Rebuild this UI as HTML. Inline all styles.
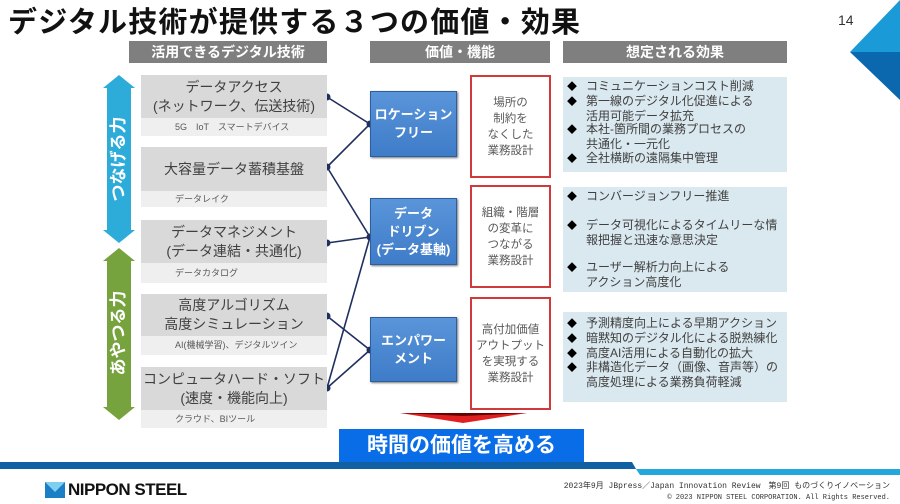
<!DOCTYPE html>
<html><head><meta charset="utf-8"><style>
*{margin:0;padding:0;box-sizing:border-box}
body{width:900px;height:504px;background:#fff;position:relative;overflow:hidden;font-family:"Liberation Sans","Noto Sans CJK JP",sans-serif;color:#404040}
.a{position:absolute}
.hdr{background:#7f7f7f;color:#fff;font-weight:bold;font-size:14px;text-align:center;line-height:22px}
.m{background:#d9d9d9;text-align:center;font-size:14px;display:flex;flex-direction:column;justify-content:center;line-height:19px}
.s{background:#efefef;font-size:9px;color:#595959;line-height:18px;padding-left:34px}
.bb{background:linear-gradient(#5a95da,#3f7cc8);border:1px solid #2d5f9e;box-shadow:1px 1px 2px #777;color:#fff;font-weight:bold;font-size:13px;text-align:center;display:flex;flex-direction:column;justify-content:center;line-height:18px}
.rb{border:2px solid #d03a3a;font-size:11.5px;text-align:center;color:#595959;display:flex;flex-direction:column;justify-content:center;line-height:16px}
.eb{background:#dae8ef;font-size:12px;color:#404040;padding:3px 0 0 4px;line-height:13.8px;white-space:nowrap}
.eb div{padding-left:19px;text-indent:-19px}
.eb div:before{content:"◆";display:inline-block;width:19px;text-indent:0;font-size:10px;color:#000}
.vt{color:#fff;font-weight:bold;font-size:17px;text-align:center;transform:rotate(-90deg);white-space:nowrap}
</style></head><body>
<div class="a" style="left:8px;top:-1px;font-size:29px;font-weight:bold;color:#111;letter-spacing:1.2px">デジタル技術が提供する３つの価値・効果</div>
<div class="a" style="left:838px;top:12px;font-size:14px;color:#333">14</div>
<svg class="a" style="left:0;top:0" width="900" height="504">
<polygon points="850,52 900,0 900,52" fill="#1a9ad6"/>
<polygon points="850,52 900,52 900,100" fill="#0b68ae"/>
<polygon points="119,75 135,88 131,88 131,230 135,230 119,243 103,230 107,230 107,88 103,88" fill="#2eacd9"/>
<polygon points="119,248 135,261 131,261 131,407 135,407 119,420 103,407 107,407 107,261 103,261" fill="#76a33e"/>
<g stroke="#1f2f5e" stroke-width="1.6" fill="none">
<line x1="327" y1="97" x2="370" y2="124"/><line x1="327" y1="167" x2="370" y2="124"/>
<line x1="327" y1="167" x2="370" y2="237"/><line x1="327" y1="243" x2="370" y2="237"/>
<line x1="327" y1="388" x2="370" y2="237"/>
<line x1="327" y1="316" x2="370" y2="350"/><line x1="327" y1="388" x2="370" y2="350"/>
</g>
<g fill="#1f2f5e">
<circle cx="327" cy="97" r="3.5"/><circle cx="327" cy="167" r="3.5"/><circle cx="327" cy="243" r="3.5"/><circle cx="327" cy="316" r="3.5"/><circle cx="327" cy="388" r="3.5"/>
<circle cx="370" cy="124" r="3.5"/><circle cx="370" cy="237" r="3.5"/><circle cx="370" cy="350" r="3.5"/>
</g>
<polygon points="400,413 527,413 463,423" fill="#e02020"/>
<polygon points="400,413 527,413 463,416" fill="#600"/>
<polygon points="0,462 632,462 636,469 0,469" fill="#1260a4"/>
<polygon points="636,469 900,469 900,475 640,475" fill="#22a8dc"/>
<polygon points="45,482 65,482 65,498 45,498" fill="#1a7fc4"/>
<polygon points="45,482 65,482 55,492" fill="#7fd0f0"/>
</svg>
<div class="a vt" style="left:69px;top:148px;width:100px;height:22px;line-height:22px">つなげる力</div>
<div class="a vt" style="left:69px;top:322px;width:100px;height:22px;line-height:22px">あやつる力</div>

<div class="a hdr" style="left:129px;top:41px;width:198px">活用できるデジタル技術</div>
<div class="a hdr" style="left:370px;top:41px;width:180px">価値・機能</div>
<div class="a hdr" style="left:563px;top:41px;width:224px">想定される効果</div>

<div class="a m" style="left:141px;top:75px;width:186px;height:43px"><span>データアクセス</span><span>(ネットワーク、伝送技術)</span></div>
<div class="a s" style="left:141px;top:118px;width:186px;height:18px">5G　IoT　スマートデバイス</div>
<div class="a m" style="left:141px;top:147px;width:186px;height:44px">大容量データ蓄積基盤</div>
<div class="a s" style="left:141px;top:191px;width:186px;height:16px;line-height:16px">データレイク</div>
<div class="a m" style="left:141px;top:220px;width:186px;height:43px"><span>データマネジメント</span><span>(データ連結・共通化)</span></div>
<div class="a s" style="left:141px;top:263px;width:186px;height:20px;line-height:20px">データカタログ</div>
<div class="a m" style="left:141px;top:294px;width:186px;height:42px"><span>高度アルゴリズム</span><span>高度シミュレーション</span></div>
<div class="a s" style="left:141px;top:336px;width:186px;height:19px;line-height:19px;padding-left:34px">AI(機械学習)、デジタルツイン</div>
<div class="a m" style="left:141px;top:367px;width:186px;height:43px"><span>コンピュータハード・ソフト</span><span>(速度・機能向上)</span></div>
<div class="a s" style="left:141px;top:410px;width:186px;height:18px">クラウド、BIツール</div>

<div class="a bb" style="left:370px;top:91px;width:87px;height:66px"><span>ロケーション</span><span>フリー</span></div>
<div class="a bb" style="left:370px;top:198px;width:87px;height:67px"><span>データ</span><span>ドリブン</span><span>(データ基軸)</span></div>
<div class="a bb" style="left:370px;top:317px;width:87px;height:65px"><span>エンパワー</span><span>メント</span></div>

<div class="a rb" style="left:470px;top:75px;width:81px;height:103px"><span>場所の</span><span>制約を</span><span>なくした</span><span>業務設計</span></div>
<div class="a rb" style="left:470px;top:185px;width:81px;height:103px"><span>組織・階層</span><span>の変革に</span><span>つながる</span><span>業務設計</span></div>
<div class="a rb" style="left:470px;top:297px;width:81px;height:113px"><span>高付加価値</span><span>アウトプット</span><span>を実現する</span><span>業務設計</span></div>

<div class="a eb" style="left:563px;top:77px;width:224px;height:95px"><div>コミュニケーションコスト削減</div><div>第一線のデジタル化促進による<br>活用可能データ拡充</div><div>本社-箇所間の業務プロセスの<br>共通化・一元化</div><div>全社横断の遠隔集中管理</div></div>
<div class="a eb" style="left:563px;top:187px;width:224px;height:105px"><div>コンバージョンフリー推進</div><div style="margin-top:14px">データ可視化によるタイムリーな情<br>報把握と迅速な意思決定</div><div style="margin-top:14px">ユーザー解析力向上による<br>アクション高度化</div></div>
<div class="a eb" style="left:563px;top:312px;width:224px;height:90px;padding-top:5px"><div>予測精度向上による早期アクション</div><div>暗黙知のデジタル化による脱熟練化</div><div>高度AI活用による自動化の拡大</div><div>非構造化データ（画像、音声等）の<br>高度処理による業務負荷軽減</div></div>

<div class="a" style="left:339px;top:429px;width:245px;height:33px;background:#0a6de8;color:#fff;font-weight:bold;font-size:21px;text-align:center;line-height:33px">時間の価値を高める</div>

<div class="a" style="left:68px;top:480px;font-size:17px;font-weight:bold;color:#111;letter-spacing:-0.5px">NIPPON STEEL</div>
<div class="a" style="right:10px;top:481px;font-size:8px;color:#333;font-family:'Liberation Mono','Noto Sans CJK JP',monospace;text-align:right;line-height:11px">2023年9月 JBpress／Japan Innovation Review　第9回 ものづくりイノベーション<br><span style="font-size:7px">© 2023 NIPPON STEEL CORPORATION. All Rights Reserved.</span></div>
</body></html>
